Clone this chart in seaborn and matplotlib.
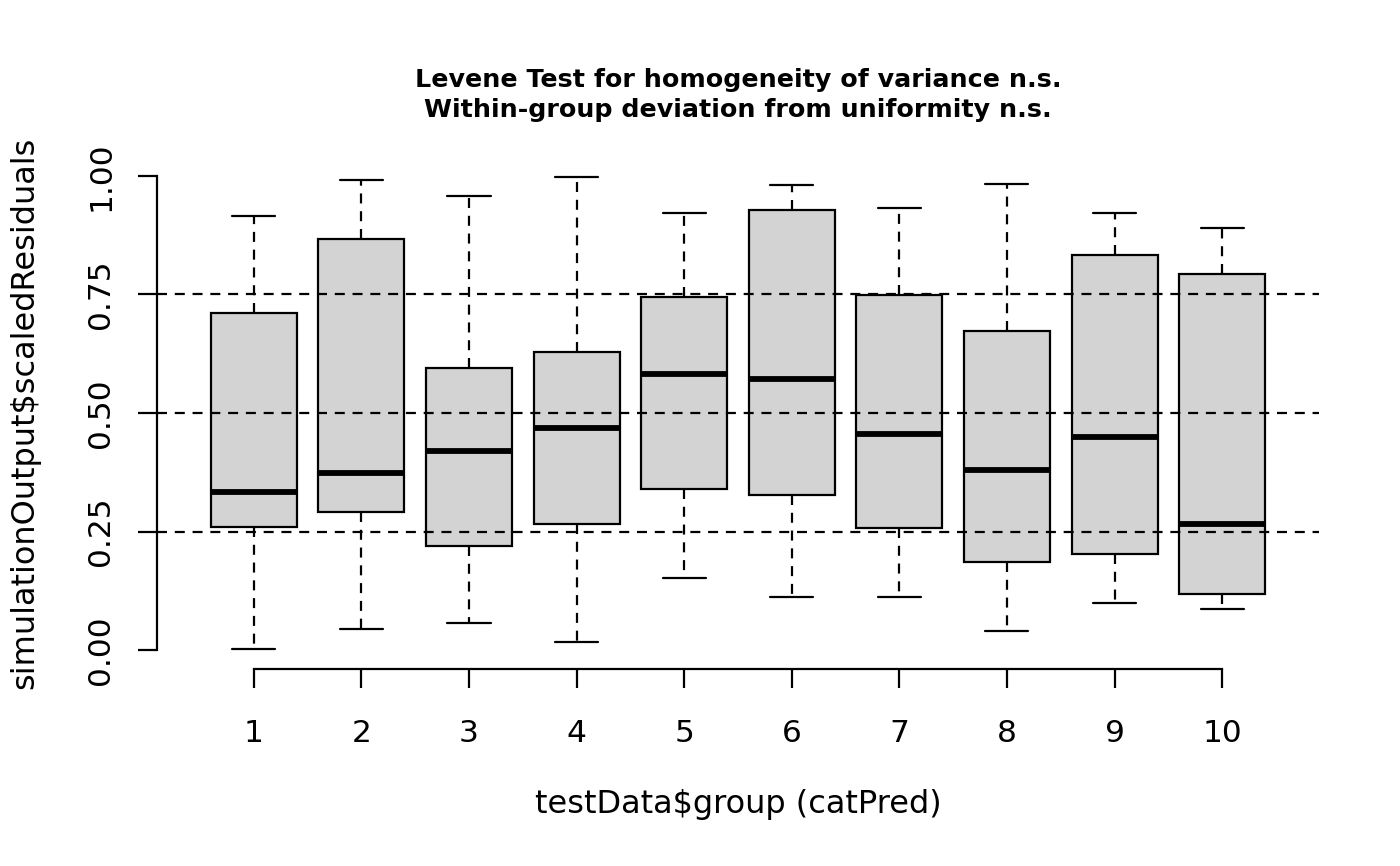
import matplotlib
matplotlib.use("Agg")
import matplotlib.pyplot as plt
import seaborn as sns
import pandas as pd
import numpy as np

# five-number summaries (min, Q1, median, Q3, max)
groups = ["1", "2", "3", "4", "5", "6", "7", "8", "9", "10"]
mins    = [0.002, 0.044, 0.057, 0.017, 0.152, 0.112, 0.112, 0.040, 0.099, 0.086]
q1s     = [0.259, 0.291, 0.219, 0.266, 0.340, 0.327, 0.257, 0.186, 0.203, 0.118]
medians = [0.333, 0.373, 0.420, 0.468, 0.582, 0.572, 0.456, 0.380, 0.449, 0.266]
q3s     = [0.711, 0.867, 0.595, 0.629, 0.745, 0.928, 0.749, 0.673, 0.833, 0.793]
maxs    = [0.916, 0.992, 0.958, 0.998, 0.922, 0.981, 0.932, 0.983, 0.922, 0.890]
ref_lines = [0.25, 0.5, 0.75]
ytick_vals = [0.0, 0.25, 0.5, 0.75, 1.0]
ytick_labels = ["0.00", "0.25", "0.50", "0.75", "1.00"]

# with 5 values per group the quartiles fall exactly on the 2nd and 4th value
rows = []
for i, g in enumerate(groups):
    for v in (mins[i], q1s[i], medians[i], q3s[i], maxs[i]):
        rows.append({"group": g, "value": v})
df = pd.DataFrame(rows)

sns.set_style("white")
plt.rcParams["font.family"] = ["DejaVu Sans"]
plt.rcParams["text.color"] = "black"
plt.rcParams["xtick.color"] = "black"
plt.rcParams["ytick.color"] = "black"

fig = plt.figure(figsize=(14, 8.66), dpi=100)
ax = fig.add_axes([157 / 1400, 1 - 669 / 866, (1319 - 157) / 1400, (669 - 157) / 866])

lw = 1.6
dash = (0, (4.5, 3.5))
sns.boxplot(data=df, x="group", y="value", order=groups, ax=ax,
            color="#D3D3D3", saturation=1, linecolor="black", linewidth=lw,
            width=0.8, whis=(0, 100), showfliers=False,
            medianprops=dict(linewidth=4.2, color="black"),
            whiskerprops=dict(linestyle=dash))

for y in ref_lines:
    ax.axhline(y, color="black", linewidth=lw, linestyle=dash, zorder=10)

ax.set_xlim(-0.9, 9.9)
ax.set_ylim(-0.04, 1.04)

for s in ["top", "right"]:
    ax.spines[s].set_visible(False)
for s in ["left", "bottom"]:
    ax.spines[s].set_color("black")
    ax.spines[s].set_linewidth(lw)
ax.spines["left"].set_bounds(0, 1)
ax.spines["bottom"].set_bounds(0, 9)

ax.set_yticks(ytick_vals)
ax.set_yticklabels(ytick_labels, rotation=90, va="center")
ax.tick_params(axis="both", direction="out", length=14, width=lw, color="black",
               labelcolor="black", labelsize=22.5, left=True, bottom=True)
ax.tick_params(axis="y", pad=16)
ax.tick_params(axis="x", pad=22)
ax.set_xlabel("")
ax.set_ylabel("")

fig.text(25 / 1400, 1 - 413 / 866, "simulationOutput$scaledResiduals",
         rotation=90, ha="center", va="center", fontsize=23, color="black")
fig.text(738 / 1400, 1 - 805 / 866, "testData$group (catPred)",
         ha="center", va="center", fontsize=23, color="black")
fig.text(738 / 1400, 1 - 80 / 866, "Levene Test for homogeneity of variance n.s.",
         ha="center", va="center", fontsize=18.3, fontweight="bold", color="black")
fig.text(738 / 1400, 1 - 110 / 866, "Within-group deviation from uniformity n.s.",
         ha="center", va="center", fontsize=18.3, fontweight="bold", color="black")

plt.savefig("out.png", dpi=100)
